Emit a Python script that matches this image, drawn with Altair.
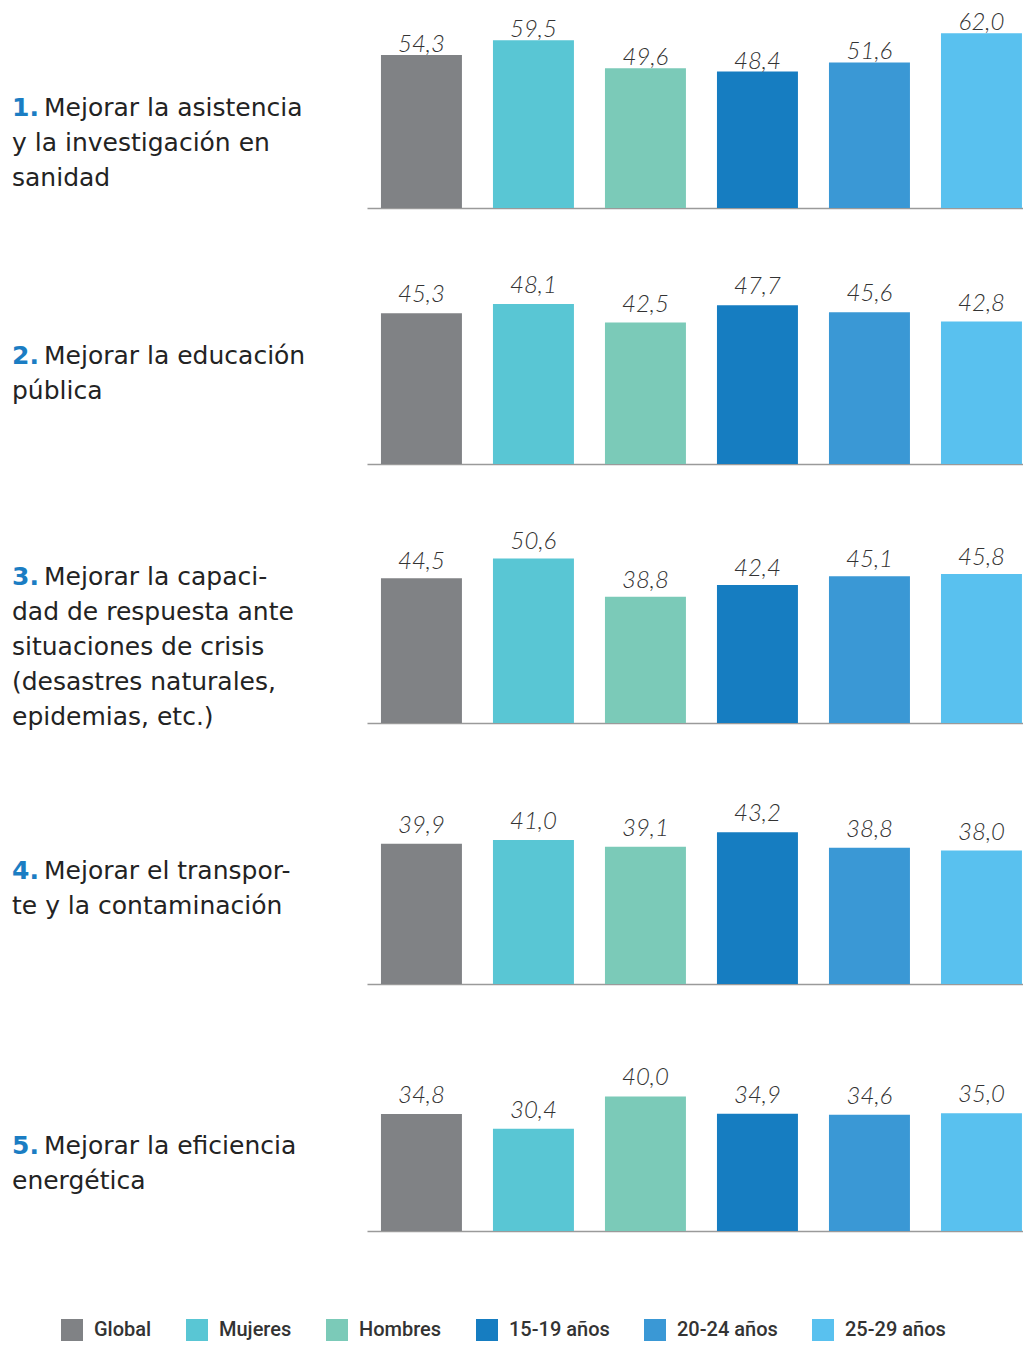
import altair as alt
import pandas as pd

groups = ["Global", "Mujeres", "Hombres", "15-19 años", "20-24 años", "25-29 años"]
colors = ["#808285", "#59C6D4", "#7BCAB8", "#167DC1", "#3A98D5", "#59C1EF"]

row1 = [54.3, 59.5, 49.6, 48.4, 51.6, 62.0]
row2 = [45.3, 48.1, 42.5, 47.7, 45.6, 42.8]
row3 = [44.5, 50.6, 38.8, 42.4, 45.1, 45.8]
row4 = [39.9, 41.0, 39.1, 43.2, 38.8, 38.0]
row5 = [34.8, 30.4, 40.0, 34.9, 34.6, 35.0]
rows = [row1, row2, row3, row4, row5]

numbers = ["1.", "2.", "3.", "4.", "5."]
first_lines = [
    "Mejorar la asistencia",
    "Mejorar la educación",
    "Mejorar la capaci-",
    "Mejorar el transpor-",
    "Mejorar la eficiencia",
]
rest_lines = [
    ["y la investigación en", "sanidad"],
    ["pública"],
    ["dad de respuesta ante", "situaciones de crisis", "(desastres naturales,", "epidemias, etc.)"],
    ["te y la contaminación"],
    ["energética"],
]

# layout / scale settings
heights = [195, 198, 201, 203, 189]
ymax = [69.15, 59.5, 61.8, 57.8, 56.2]
label_y = [103, 98, 63, 98, 112]
value_dy = [-3, -11, -9, -11, -11]
PLOT_W = 656
LABEL_X = -355
LABEL_FONT = "DejaVu Sans"
LABEL_SIZE = 25
TEXT_COLOR = "#232323"
BLUE = "#1B7DC3"


def make_row(i):
    df = pd.DataFrame({"grupo": groups, "valor": rows[i]})
    H = heights[i]
    x = alt.X(
        "grupo:N",
        sort=groups,
        scale=alt.Scale(paddingInner=0.277, paddingOuter=0.067, align=0.93),
        axis=alt.Axis(title=None, labels=False, ticks=False, grid=False,
                      domainColor="#9a9a9a", domainWidth=1.5),
    )
    y = alt.Y("valor:Q", scale=alt.Scale(domain=[0, ymax[i]], nice=False, zero=True), axis=None)
    base = alt.Chart(df).encode(x=x, y=y)
    bars = base.mark_bar().encode(
        color=alt.Color(
            "grupo:N",
            sort=groups,
            scale=alt.Scale(domain=groups, range=colors),
            legend=alt.Legend(
                title=None,
                orient="none",
                direction="horizontal",
                legendX=-306,
                legendY=1306,
                padding=0,
                symbolType="square",
                symbolSize=484,
                symbolStrokeWidth=0,
                symbolOpacity=1,
                labelFont="Roboto",
                labelFontSize=20,
                labelFontWeight=500,
                labelColor="#333333",
                labelOffset=11,
                columnPadding=34,
            ),
        )
    )
    vals = base.transform_calculate(
        lbl="replace(format(datum.valor, '.1f'), '.', ',')"
    ).mark_text(
        baseline="alphabetic", dy=value_dy[i], font="Lato", fontStyle="italic",
        fontWeight=300, fontSize=24, color="#333333"
    ).encode(text="lbl:N")

    one = pd.DataFrame({"k": [0]})
    num = alt.Chart(one).mark_text(
        align="left", baseline="alphabetic", font=LABEL_FONT, fontSize=LABEL_SIZE,
        fontWeight="bold", color=BLUE
    ).encode(x=alt.value(LABEL_X), y=alt.value(label_y[i]), text=alt.value(numbers[i]))
    first = alt.Chart(one).mark_text(
        align="left", baseline="alphabetic", font=LABEL_FONT, fontSize=LABEL_SIZE,
        color=TEXT_COLOR, dx=32
    ).encode(x=alt.value(LABEL_X), y=alt.value(label_y[i]), text=alt.value(first_lines[i]))
    rest = alt.Chart(one).mark_text(
        align="left", baseline="top", font=LABEL_FONT, fontSize=LABEL_SIZE,
        color=TEXT_COLOR, lineHeight=35
    ).encode(x=alt.value(LABEL_X), y=alt.value(label_y[i] + 15), text=alt.value(rest_lines[i]))

    return alt.layer(bars, vals, num, first, rest).properties(width=PLOT_W, height=H)


chart = alt.vconcat(*[make_row(i) for i in range(5)], spacing=58, bounds="flush").properties(
    padding={"left": 4, "top": 3, "right": 0, "bottom": 0}
).configure(background="white").configure_view(strokeWidth=0)

chart.save("out.html", embed_options={"renderer": "svg", "actions": False})
